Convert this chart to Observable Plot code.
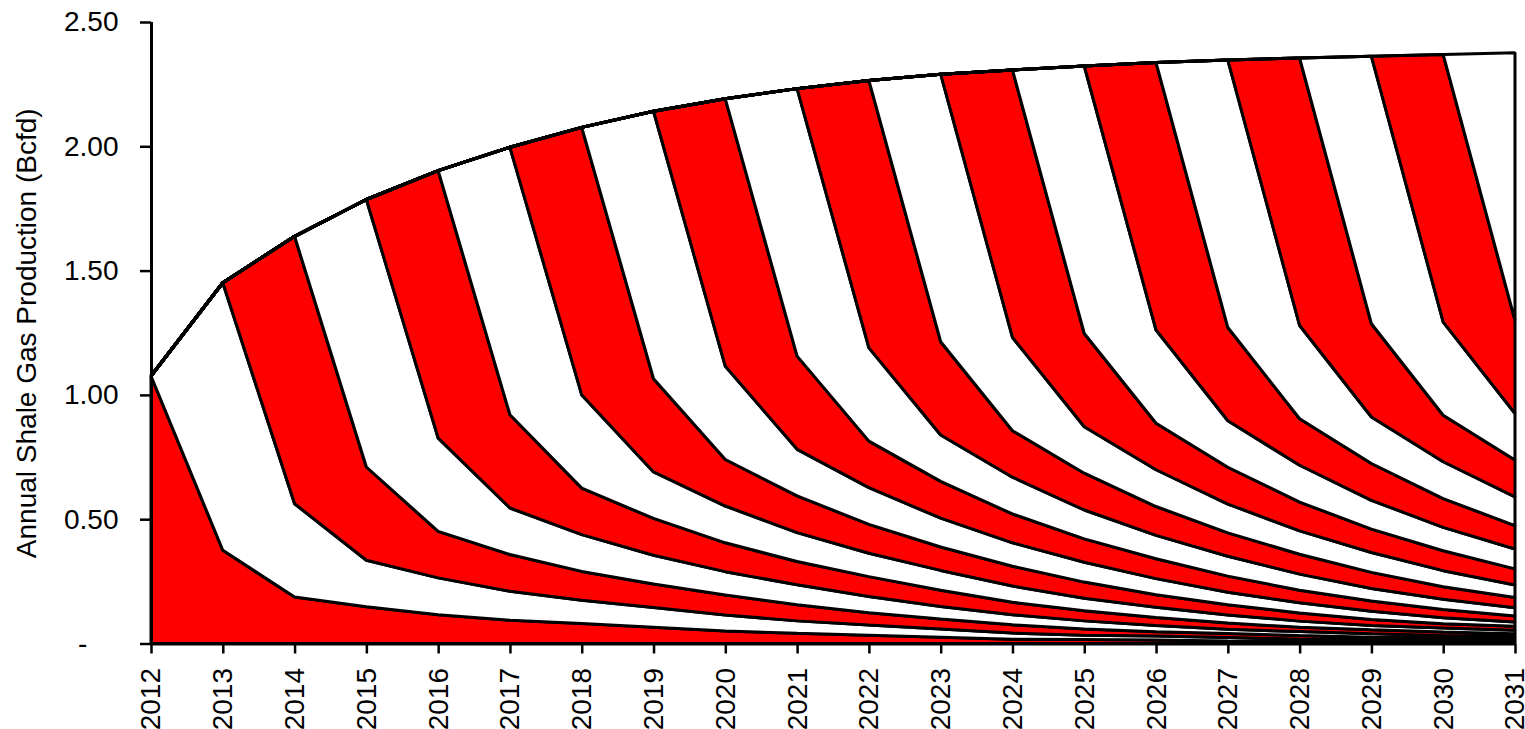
<!DOCTYPE html>
<html>
<head>
<meta charset="utf-8">
<script src="https://cdn.jsdelivr.net/npm/d3@7"></script>
<script src="https://cdn.jsdelivr.net/npm/@observablehq/plot@0.6"></script>
<style>
  html, body { margin: 0; padding: 0; background: #fff; }
  #chart svg { display: block; }
</style>
</head>
<body>
<div id="chart"></div>
<script>
// Years on the x axis (also the vintage / start year of each well cohort)
const years = [2012, 2013, 2014, 2015, 2016, 2017, 2018, 2019, 2020, 2021,
               2022, 2023, 2024, 2025, 2026, 2027, 2028, 2029, 2030, 2031];
// Production of one annual cohort by age (Bcfd)
const declineCurve = [1.076, 0.375, 0.187, 0.148, 0.116, 0.094, 0.080, 0.065, 0.050, 0.041,
                      0.033, 0.025, 0.017, 0.016, 0.014, 0.010, 0.008, 0.007, 0.007, 0.007];
// Y axis ticks
const yTicks = [0, 0.5, 1.0, 1.5, 2.0, 2.5];
const yTitle = "Annual Shale Gas Production (Bcfd)";

// Build the stacked table: one series per vintage, zero before it starts
const rows = [];
years.forEach((vintage, i) => {
  years.forEach((year, j) => {
    rows.push({vintage, year, value: j >= i ? declineCurve[j - i] : 0});
  });
});

const chart = Plot.plot({
  width: 1525,
  height: 729,
  marginLeft: 151,
  marginRight: 10,
  marginTop: 22,
  marginBottom: 85.5,
  style: {fontFamily: "Liberation Sans, Arial, sans-serif", fontSize: "28px", color: "black", background: "white"},
  x: {type: "linear", domain: [2012, 2031]},
  y: {domain: [0, 2.5]},
  color: {type: "ordinal", domain: years, range: years.map((y, i) => i % 2 === 0 ? "#ff0000" : "#ffffff")},
  marks: [
    Plot.areaY(rows, {
      x: "year", y: "value", z: "vintage", fill: "vintage",
      stroke: "black", strokeWidth: 3, strokeLinejoin: "miter", order: null
    }),
    Plot.ruleX([2012], {stroke: "black", strokeWidth: 3}),
    Plot.ruleY([0], {stroke: "black", strokeWidth: 3}),
    Plot.axisY({
      ticks: yTicks,
      tickFormat: d => d === 0 ? "-\u2007\u2007" : d.toFixed(2),
      tickSize: 11, tickPadding: 22, strokeWidth: 2.5,
      fontSize: 28, label: null
    }),
    Plot.axisX({
      ticks: years, tickFormat: d => String(d),
      tickRotate: -90, tickSize: 10, tickPadding: 14, strokeWidth: 2.5,
      fontSize: 28, label: null
    }),
    Plot.text([yTitle], {
      frameAnchor: "left", dx: -124, rotate: -90, fontSize: 28,
      text: d => d, lineAnchor: "middle", textAnchor: "middle", fill: "black"
    })
  ]
});
document.getElementById("chart").appendChild(chart);
</script>
</body>
</html>
